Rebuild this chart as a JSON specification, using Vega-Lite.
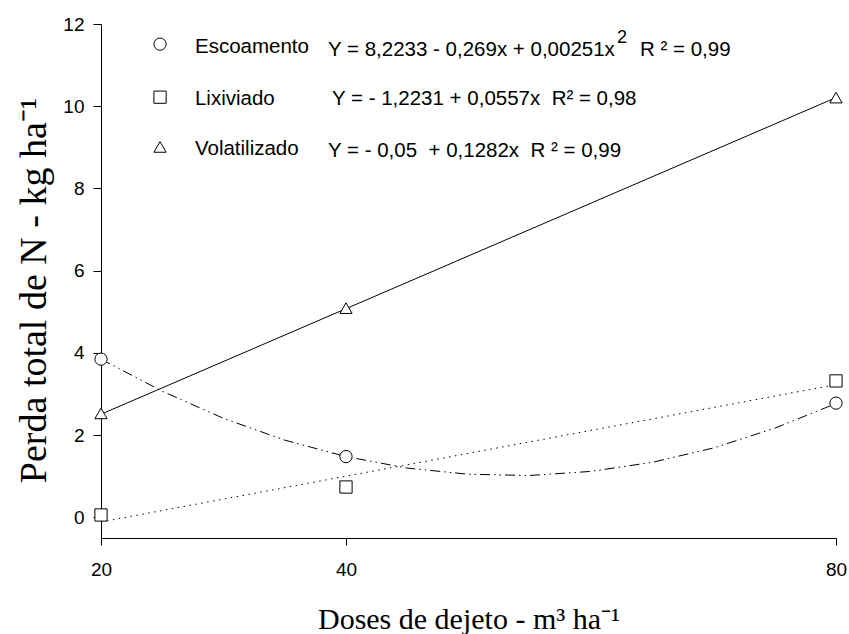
{
  "$schema": "https://vega.github.io/schema/vega-lite/v6.json",
  "width": 735,
  "height": 514,
  "autosize": {"type": "none"},
  "padding": {"left": 101, "top": 24, "right": 13, "bottom": 96},
  "background": "white",
  "config": {
    "view": {"stroke": null},
    "axis": {
      "domainColor": "black",
      "domainWidth": 1,
      "tickColor": "black",
      "tickWidth": 1,
      "labelColor": "black",
      "labelFont": "Liberation Sans",
      "labelFontSize": 19,
      "labelFlush": false,
      "titleColor": "black",
      "titleFont": "Liberation Serif",
      "titleFontWeight": "normal",
      "grid": false
    }
  },
  "datasets": {
    "points": [
      {"series": "Escoamento", "dose": 20, "value": 3.85},
      {"series": "Escoamento", "dose": 40, "value": 1.48},
      {"series": "Escoamento", "dose": 80, "value": 2.78},
      {"series": "Lixiviado", "dose": 20, "value": 0.06},
      {"series": "Lixiviado", "dose": 40, "value": 0.74},
      {"series": "Lixiviado", "dose": 80, "value": 3.32},
      {"series": "Volatilizado", "dose": 20, "value": 2.53},
      {"series": "Volatilizado", "dose": 40, "value": 5.09},
      {"series": "Volatilizado", "dose": 80, "value": 10.21}
    ],
    "fits": [
      {"series": "Escoamento", "dose": 20, "value": 3.85},
      {"series": "Escoamento", "dose": 25, "value": 3.07},
      {"series": "Escoamento", "dose": 30, "value": 2.41},
      {"series": "Escoamento", "dose": 35, "value": 1.88},
      {"series": "Escoamento", "dose": 40, "value": 1.48},
      {"series": "Escoamento", "dose": 45, "value": 1.2},
      {"series": "Escoamento", "dose": 50, "value": 1.05},
      {"series": "Escoamento", "dose": 55, "value": 1.02},
      {"series": "Escoamento", "dose": 60, "value": 1.12},
      {"series": "Escoamento", "dose": 65, "value": 1.34},
      {"series": "Escoamento", "dose": 70, "value": 1.69},
      {"series": "Escoamento", "dose": 75, "value": 2.17},
      {"series": "Escoamento", "dose": 80, "value": 2.77},
      {"series": "Lixiviado", "dose": 20, "value": -0.11},
      {"series": "Lixiviado", "dose": 80, "value": 3.23},
      {"series": "Volatilizado", "dose": 20, "value": 2.51},
      {"series": "Volatilizado", "dose": 80, "value": 10.21}
    ],
    "legendSymbols": [
      {"series": "Escoamento", "dose": 24.82, "value": 11.51},
      {"series": "Lixiviado", "dose": 24.82, "value": 10.22},
      {"series": "Volatilizado", "dose": 24.82, "value": 9.01}
    ],
    "equations": [
      {"label": "Escoamento", "dose": 27.67, "value": 11.29},
      {"label": "Lixiviado", "dose": 27.67, "value": 10.03},
      {"label": "Volatilizado", "dose": 27.67, "value": 8.81},
      {"label": "Y = 8,2233 - 0,269x + 0,00251x", "dose": 38.53, "value": 11.22},
      {"label": "R ² = 0,99", "dose": 64.0, "value": 11.22},
      {"label": "Y = - 1,2231 + 0,0557x\u00a0\u00a0R² = 0,98", "dose": 38.86, "value": 10.03},
      {"label": "Y = - 0,05\u00a0\u00a0+ 0,1282x\u00a0\u00a0R ² = 0,99", "dose": 38.53, "value": 8.77}
    ],
    "superscripts": [
      {"label": "2", "dose": 62.12, "value": 11.53}
    ]
  },
  "encoding": {
    "x": {
      "field": "dose",
      "type": "quantitative",
      "scale": {"domain": [20, 80], "nice": false, "zero": false},
      "axis": {
        "values": [20, 40, 80],
        "tickSize": 7,
        "labelPadding": 15,
        "title": "Doses de dejeto - m³ ha⁻¹",
        "titleFontSize": 30,
        "titleBaseline": "alphabetic",
        "titleY": 90
      }
    },
    "y": {
      "field": "value",
      "type": "quantitative",
      "scale": {"domain": [-0.5, 12], "nice": false, "zero": false},
      "axis": {
        "values": [0, 2, 4, 6, 8, 10, 12],
        "tickSize": 8,
        "labelPadding": 9,
        "title": "Perda total de N - kg ha⁻¹",
        "titleFontSize": 38,
        "titleBaseline": "alphabetic",
        "titleAlign": "center",
        "titleX": -56,
        "titleY": 266
      }
    }
  },
  "layer": [
    {
      "data": {"name": "fits"},
      "transform": [{"filter": "datum.series == 'Escoamento'"}],
      "mark": {"type": "line", "color": "black", "strokeWidth": 1, "strokeDash": [10, 4, 1.5, 4, 1.5, 4]}
    },
    {
      "data": {"name": "fits"},
      "transform": [{"filter": "datum.series == 'Lixiviado'"}],
      "mark": {"type": "line", "color": "black", "strokeWidth": 1, "strokeDash": [1.5, 4.5]}
    },
    {
      "data": {"name": "fits"},
      "transform": [{"filter": "datum.series == 'Volatilizado'"}],
      "mark": {"type": "line", "color": "black", "strokeWidth": 1}
    },
    {
      "data": {"name": "points"},
      "mark": {"type": "point", "filled": true, "fill": "white", "stroke": "black", "strokeWidth": 1, "size": 150, "opacity": 1},
      "encoding": {
        "shape": {
          "field": "series",
          "type": "nominal",
          "scale": {
            "domain": ["Escoamento", "Lixiviado", "Volatilizado"],
            "range": ["circle", "square", "triangle-up"]
          },
          "legend": null
        }
      }
    },
    {
      "data": {"name": "legendSymbols"},
      "mark": {"type": "point", "filled": true, "fill": "white", "stroke": "black", "strokeWidth": 1, "size": 150, "opacity": 1},
      "encoding": {
        "shape": {"field": "series", "type": "nominal", "legend": null}
      }
    },
    {
      "data": {"name": "equations"},
      "mark": {"type": "text", "font": "Liberation Sans", "fontSize": 20.5, "align": "left", "baseline": "alphabetic", "fill": "black"},
      "encoding": {"text": {"field": "label", "type": "nominal"}}
    },
    {
      "data": {"name": "superscripts"},
      "mark": {"type": "text", "font": "Liberation Sans", "fontSize": 18, "align": "left", "baseline": "alphabetic", "fill": "black"},
      "encoding": {"text": {"field": "label", "type": "nominal"}}
    }
  ]
}
